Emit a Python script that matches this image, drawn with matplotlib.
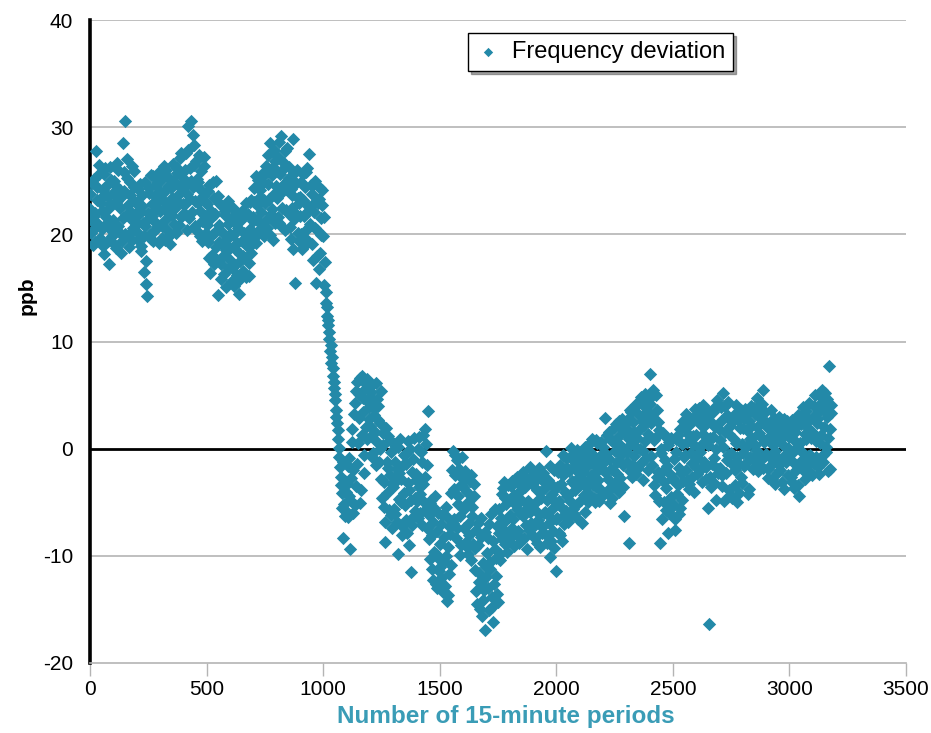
import numpy as np
import matplotlib.pyplot as plt

plt.rcParams['font.family'] = ['Liberation Sans', 'DejaVu Sans']
plt.rcParams['axes.unicode_minus'] = False

############## - Data - ######################################
# readings every 5 periods; each row holds one block of 100 periods
# series a starts at period 0 of each block, series b at period 2
ppb_a = [
    [22.4, 20.1, 24.8, 21.7, 19.3, 27.8, 23.2, 21.0, 25.6, 22.9, 20.5, 24.1, 18.2, 26.2, 21.6, 23.5, 17.2, 22.8, 25.1, 19.8],
    [21.3, 24.6, 18.7, 23.1, 26.0, 20.2, 22.5, 19.4, 28.5, 24.0, 30.6, 21.8, 25.3, 19.9, 23.7, 22.1, 26.4, 20.6, 24.4, 21.2],
    [23.0, 19.5, 21.9, 24.7, 18.4, 22.6, 16.5, 20.8, 15.4, 14.2, 21.4, 24.3, 19.6, 22.8, 25.4, 20.3, 23.6, 21.1, 24.9, 19.2],
    [22.2, 25.1, 19.7, 23.9, 21.3, 26.0, 20.4, 24.5, 22.7, 19.1, 23.4, 26.6, 21.0, 24.8, 20.2, 25.7, 22.9, 27.1, 21.6, 24.2],
    [25.3, 22.0, 27.6, 23.8, 30.1, 21.5, 26.2, 30.6, 24.4, 28.3, 23.1, 26.8, 20.3, 24.9, 22.2, 25.9, 19.4, 23.6, 27.2, 21.7],
    [22.8, 19.3, 24.6, 16.4, 21.5, 18.1, 23.4, 20.2, 25.0, 17.6, 14.3, 20.9, 17.2, 22.6, 19.0, 16.3, 21.8, 18.5, 23.1, 16.9],
    [18.7, 21.4, 15.6, 19.9, 17.1, 22.0, 16.2, 20.6, 14.4, 18.2, 19.4, 16.6, 21.7, 17.8, 22.9, 18.9, 16.1, 20.5, 23.2, 19.1],
    [21.6, 24.3, 19.2, 22.7, 25.1, 20.4, 23.5, 21.0, 24.8, 19.8, 22.9, 26.4, 20.6, 24.7, 28.5, 21.9, 25.5, 19.5, 23.8, 26.8],
    [23.4, 27.2, 21.1, 25.6, 29.2, 22.5, 26.7, 20.4, 24.2, 28.1, 22.0, 25.3, 19.6, 23.7, 28.9, 21.4, 15.5, 24.8, 20.1, 22.9],
    [21.7, 24.9, 18.6, 23.2, 20.3, 25.8, 19.2, 22.6, 27.5, 21.0, 23.8, 17.6, 22.1, 25.0, 15.5, 20.4, 23.3, 18.3, 21.5, 24.1],
    [19.8, 15.3, 13.6, 12.4, 11.5, 10.2, 9.1, 8.0, 6.8, 5.7, 4.5, 3.6, 2.4, 0.9, -0.8, -2.6, -4.1, -8.3, -5.2, -3.0],
    [-5.8, -1.6, -4.4, -9.4, -2.7, 1.8, -6.0, 4.3, -3.5, 6.2, 0.5, 5.1, -5.1, 6.8, 3.4, -0.6, 5.6, 2.0, 6.5, 3.9],
    [4.8, 1.2, 5.9, -0.4, 3.1, 6.1, 0.6, 4.0, -1.2, 2.4, -2.8, 1.5, -5.4, -8.7, 1.9, -4.1, -1.8, 0.8, -6.2, -3.3],
    [-3.6, 0.4, -6.1, -1.9, -9.8, -4.7, 0.9, -2.8, -7.2, -0.6, -5.3, -1.4, -7.9, 0.7, -3.9, -11.5, -2.2, -6.4, 1.0, -4.6],
    [-2.4, -6.5, 1.1, -4.2, -0.3, -7.1, -3.3, 1.8, -5.6, -1.5, 3.5, -8.4, -5.1, -11.2, -6.8, -9.6, -4.4, -12.6, -7.7, -10.3],
    [-8.9, -12.1, -6.2, -13.4, -10.5, -5.4, -14.2, -9.2, -11.7, -7.3, -4.1, -0.2, -6.6, -2.5, -8.3, -1.1, -5.2, -9.9, -3.4, -0.8],
    [-3.6, -7.4, -2.1, -9.2, -5.0, -8.1, -3.0, -10.4, -6.3, -4.4, -11.3, -7.6, -14.5, -9.0, -12.4, -6.5, -15.6, -10.7, -13.2, -16.9],
    [-12.0, -8.3, -15.1, -10.6, -6.1, -13.8, -16.2, -9.4, -11.9, -7.2, -14.3, -5.6, -9.8, -4.2, -7.5, -3.1, -8.9, -5.2, -9.6, -6.4],
    [-4.7, -8.2, -3.0, -6.6, -9.1, -5.3, -2.6, -7.7, -4.0, -6.0, -8.6, -2.2, -5.8, -3.6, -7.1, -9.4, -4.9, -1.7, -6.9, -3.3],
    [-5.5, -2.4, -8.3, -3.9, -6.7, -1.8, -9.2, -4.6, -7.3, -3.1, -5.9, -0.2, -8.8, -2.9, -6.3, -10.1, -4.2, -7.7, -2.0, -5.0],
    [-11.4, -3.6, -7.9, -1.5, -5.4, -8.6, -2.5, -6.2, -0.9, -4.4, -6.8, -2.1, -4.9, 0.1, -3.2, -6.1, -1.2, -5.3, -2.8, -0.4],
    [-3.4, -0.8, -6.9, -2.2, -4.3, 0.2, -1.6, -5.0, -3.0, -0.3, -2.7, 0.9, -4.6, -1.0, -3.6, 0.5, -2.0, -4.9, -0.6, -1.9],
    [-1.3, -4.2, 2.9, -0.5, -2.8, 1.6, -5.1, -1.9, 0.7, -3.5, -0.2, 2.3, -2.4, 1.1, -4.0, 0.3, 2.8, -1.5, -6.3, 1.5],
    [1.9, -1.2, -8.8, 3.6, 0.4, -2.6, 2.5, -0.7, 4.2, 1.0, -1.8, 3.1, 0.0, 4.8, -2.9, 2.2, 5.1, -0.9, 3.5, 1.4],
    [7.0, 2.4, -1.5, 5.5, 0.8, -4.3, 3.6, -2.2, 1.7, -8.8, -0.4, -6.6, -3.1, 1.2, -5.7, -1.6, -7.9, 0.6, -4.5, -2.8],
    [-5.2, -1.0, -7.6, 0.9, -3.4, -6.1, 1.8, -2.3, -4.8, 2.6, -0.6, 3.2, -2.9, 1.4, -3.8, 2.9, -1.3, 0.4, -4.0, 3.7],
    [1.3, -2.4, 3.8, -0.3, 2.2, -3.1, 4.1, 0.6, -1.7, 2.9, -5.5, -16.4, 1.0, -3.6, 3.4, -0.9, 2.0, -4.8, 4.5, -1.9],
    [0.8, 3.9, -2.5, 5.2, -4.9, 1.6, -1.1, 4.4, -3.9, 2.1, -0.4, -4.6, 3.1, -2.0, 0.5, -5.0, 2.7, -1.4, 3.6, -3.2],
    [1.9, -1.6, 3.7, 0.2, -4.2, 2.6, -0.8, 4.0, 1.0, -1.9, 3.2, -0.1, 4.7, -2.1, 1.5, 2.9, -1.0, 5.5, 0.6, 3.4],
    [-0.5, 2.4, -2.7, 1.2, 3.6, -1.4, 0.3, 2.9, -3.3, 1.7, -0.9, 3.0, -2.0, 0.9, 2.2, -3.8, 1.4, -1.2, 2.6, 0.1],
    [1.1, -2.6, 2.7, -0.3, -3.7, 1.9, -1.5, 3.1, -4.4, 0.5, 2.3, -1.1, 3.9, -2.8, 0.9, 2.0, -0.7, 4.3, -2.2, 1.6],
    [3.0, -1.3, 5.0, 0.7, 2.4, -2.4, 4.2, 1.3, 5.5, -0.6, 3.6, 0.2, 4.6, -2.1, 7.7, 1.8, 3.3],
]
ppb_b = [
    [23.8, 21.2, 19.0, 25.2, 22.0, 20.7, 24.4, 26.5, 19.7, 23.4, 22.2, 18.9, 25.6, 21.0, 24.6, 19.4, 22.5, 26.3, 20.4, 23.9],
    [25.0, 19.0, 22.9, 26.7, 20.8, 24.1, 18.3, 23.6, 21.5, 25.8, 20.0, 27.0, 22.7, 18.8, 24.9, 21.4, 19.5, 25.9, 23.0, 20.9],
    [20.2, 24.2, 22.3, 18.9, 23.7, 21.1, 19.8, 24.9, 17.5, 22.0, 23.9, 20.0, 25.5, 21.7, 19.4, 24.6, 22.4, 20.7, 23.1, 25.8],
    [24.0, 20.8, 23.2, 26.4, 19.5, 22.6, 25.4, 21.9, 19.9, 24.3, 21.8, 25.0, 22.4, 20.1, 26.2, 23.7, 20.9, 24.5, 27.6, 22.8],
    [22.7, 26.0, 24.6, 20.4, 27.9, 23.3, 25.0, 22.1, 29.3, 26.5, 20.8, 25.2, 22.9, 27.4, 19.8, 24.1, 21.2, 26.4, 23.0, 20.1],
    [20.9, 24.0, 17.8, 22.2, 19.9, 24.9, 17.2, 21.9, 18.8, 23.6, 19.3, 22.8, 15.8, 20.2, 18.0, 22.2, 15.1, 19.6, 21.0, 17.7],
    [20.0, 16.9, 22.5, 15.2, 18.6, 21.0, 19.2, 15.7, 17.5, 21.3, 22.2, 18.0, 20.1, 16.0, 19.7, 21.9, 17.3, 23.0, 18.3, 21.2],
    [23.0, 19.8, 25.4, 21.3, 20.0, 24.1, 22.1, 25.6, 20.1, 23.2, 25.6, 21.4, 27.4, 23.3, 19.9, 26.1, 22.4, 27.9, 21.1, 24.5],
    [25.9, 21.6, 28.6, 23.9, 20.7, 26.1, 24.7, 27.8, 22.3, 25.1, 26.3, 20.7, 24.2, 22.5, 18.6, 25.7, 21.9, 26.0, 23.4, 19.4],
    [23.5, 20.0, 25.6, 21.7, 24.4, 19.6, 26.2, 22.2, 20.8, 24.6, 19.1, 22.8, 24.7, 20.6, 18.0, 22.9, 16.8, 24.3, 19.9, 22.7],
    [21.6, 17.4, 14.6, 13.2, 12.0, 10.9, 9.7, 8.6, 7.5, 6.2, 5.1, 3.0, 1.7, 0.1, -1.7, -3.4, -5.5, -1.2, -6.3, -4.0],
    [-3.3, -6.4, -0.9, -4.8, 0.6, -2.0, 3.2, -5.3, 5.4, -1.4, 2.9, 6.6, -3.9, 1.3, 4.7, -2.3, 6.0, 0.9, 4.4, 2.8],
    [2.1, 5.3, -0.9, 3.8, 1.6, -1.5, 4.6, 2.7, 0.0, 5.4, -4.6, 0.3, -3.1, -6.8, -1.2, 1.2, -5.7, -2.5, -0.3, -7.4],
    [-5.6, -1.2, -3.0, -6.8, 0.2, -2.3, -5.0, -8.1, -1.5, -4.1, -0.5, -6.7, -3.2, -9.0, 0.0, -4.8, -7.1, -1.0, -5.8, -2.9],
    [-4.9, 0.0, -3.6, -6.0, -1.2, 1.3, -5.0, -2.6, 0.4, -7.4, -6.2, -10.3, -4.8, -8.1, -12.3, -5.5, -9.8, -13.0, -6.0, -11.4],
    [-11.0, -7.0, -13.0, -8.2, -12.8, -10.0, -6.4, -13.7, -8.0, -10.9, -2.0, -6.9, -3.8, -0.6, -7.4, -4.4, -1.9, -6.3, -9.0, -2.7],
    [-5.6, -2.8, -8.7, -4.0, -9.8, -6.9, -2.5, -5.4, -8.9, -3.3, -9.3, -13.3, -6.9, -11.6, -15.0, -8.2, -12.7, -14.1, -7.8, -11.0],
    [-9.7, -13.0, -7.0, -11.2, -14.8, -8.6, -12.6, -5.6, -10.2, -13.6, -7.9, -10.4, -6.5, -8.4, -3.7, -6.8, -4.6, -7.9, -3.4, -8.6],
    [-6.2, -3.5, -7.4, -4.3, -2.8, -8.0, -5.6, -3.2, -8.8, -4.8, -3.8, -6.3, -8.3, -2.7, -5.1, -3.0, -7.6, -5.9, -2.6, -8.1],
    [-3.2, -7.1, -5.0, -8.8, -2.6, -6.1, -4.0, -7.9, -2.3, -6.0, -3.7, -8.1, -4.8, -6.9, -1.6, -8.6, -5.6, -3.5, -9.3, -6.6],
    [-6.5, -2.2, -4.9, -8.1, -3.3, -0.6, -7.0, -4.0, -5.8, -1.8, -4.3, -0.8, -6.2, -3.0, -5.6, -1.6, -3.9, -0.1, -6.6, -2.3],
    [-1.4, -4.8, -2.8, -0.2, -5.9, -3.6, -1.1, -4.1, 0.4, -2.5, -0.5, -3.4, -1.5, -5.0, 0.8, -2.9, -0.9, -3.8, 0.6, -4.2],
    [0.2, -2.2, -0.8, 1.3, -3.9, -1.0, 0.9, -4.6, -2.0, 1.9, -3.2, 0.5, -1.2, 2.6, -2.7, -0.6, 1.8, -3.6, 0.0, 2.4],
    [-0.3, 2.8, 0.9, -2.1, 3.4, -1.5, 1.6, 3.9, -2.4, 0.1, 4.3, 1.8, -1.3, 2.6, -0.2, 4.0, 0.7, 2.9, -2.0, 4.6],
    [4.2, -0.7, 3.0, -3.4, 1.0, 5.0, -2.6, 2.5, -4.9, 0.0, -2.2, 1.5, -5.0, -1.1, -3.7, 0.3, -6.0, -2.4, 1.0, -5.4],
    [-2.7, -6.6, -0.3, -4.2, 1.3, -1.8, -5.5, 0.4, -3.0, -0.8, 1.9, -2.0, 0.6, -3.3, 2.3, -0.4, -2.6, 1.2, 3.0, -1.7],
    [-0.8, 2.7, 0.1, -2.0, 3.3, 1.4, -1.2, 2.2, -2.8, 3.6, 0.3, -2.6, 2.5, -1.4, 1.1, -3.2, 3.9, 0.0, -2.3, 1.8],
    [-1.8, 2.6, -3.5, 0.2, 4.0, -2.3, 3.1, -0.6, 1.4, -4.3, 2.5, -1.5, 0.9, -3.4, 4.1, -0.8, -4.1, 1.9, -2.6, 0.4],
    [-0.4, 2.9, -1.3, 1.7, 3.3, -3.8, 0.9, 2.1, -0.9, 3.8, 0.3, -1.6, 2.0, 3.9, -0.5, 1.1, 4.2, -1.8, 2.5, -0.7],
    [2.0, -1.9, 0.8, -0.8, 2.3, -2.8, 1.6, -0.2, 0.6, -2.3, 2.4, -1.5, 1.0, -3.1, 0.3, 2.8, -0.6, 1.9, -2.5, 1.2],
    [-1.0, 2.2, -3.1, 0.9, 1.6, -2.0, 0.2, -3.4, 2.5, -1.6, -0.3, 3.2, -2.1, 1.4, 3.5, -1.5, 2.7, -0.6, 1.0, -2.5],
    [1.5, 4.0, -0.8, 2.8, -1.7, 3.4, 0.5, 4.8, -1.2, 2.0, 5.2, -0.3, 3.0, 1.0, -1.9, 4.1],
]
block = 100
step = 5

x_ticks = [0, 500, 1000, 1500, 2000, 2500, 3000, 3500]
y_ticks = [-20, -10, 0, 10, 20, 30, 40]

teal = '#2389a8'
label_teal = '#3a9cb6'
grid_grey = '#b4b4b4'


def flatten(rows, offset):
    xs, ys = [], []
    for r, row in enumerate(rows):
        for j, v in enumerate(row):
            xs.append(r * block + offset + j * step)
            ys.append(v)
    return np.array(xs), np.array(ys)


xa, ya = flatten(ppb_a, 0)
xb, yb = flatten(ppb_b, 2)
periods = np.concatenate([xa, xb])
ppb = np.concatenate([ya, yb])

################ - Plotting - ##################
fig = plt.figure(figsize=(9.31, 7.33), dpi=100)
ax = fig.add_axes([0.0967, 0.0955, 0.8765, 0.8772])

for yv in y_ticks[1:]:
    if yv != 0:
        ax.axhline(yv, color=grid_grey, lw=1.2, zorder=1)
ax.axhline(0, color='black', lw=2.0, zorder=2)

ax.scatter(periods, ppb, marker='D', s=46, color=teal, linewidths=0,
           label='Frequency deviation', zorder=3)

ax.set_xlim(0, 3500)
ax.set_ylim(-20, 40)
ax.set_xticks(x_ticks)
ax.set_yticks(y_ticks)
ax.tick_params(axis='x', length=9, width=1, color=grid_grey, pad=3, labelsize=15)
ax.tick_params(axis='y', length=0, pad=12, labelsize=15)

for side in ['top', 'right']:
    ax.spines[side].set_visible(False)
ax.spines['left'].set_linewidth(2.6)
ax.spines['left'].set_color('black')
ax.spines['bottom'].set_linewidth(1.2)
ax.spines['bottom'].set_color(grid_grey)

ax.set_xlabel('Number of 15-minute periods', fontsize=17.5, fontweight='bold',
              color=label_teal)
ax.xaxis.set_label_coords(0.51, -0.066)
ax.set_ylabel('ppb', fontsize=15, fontweight='bold')
ax.yaxis.set_label_coords(-0.066, 0.571)

leg = ax.legend(loc='upper left', bbox_to_anchor=(0.463, 0.98), fontsize=17,
                frameon=True, fancybox=False, shadow=True, borderaxespad=0,
                handlelength=1.0, handletextpad=0.5, borderpad=0.35, markerscale=0.7)
leg.get_frame().set_edgecolor('black')
leg.get_frame().set_linewidth(1.0)

plt.savefig('out.png', dpi=100)
